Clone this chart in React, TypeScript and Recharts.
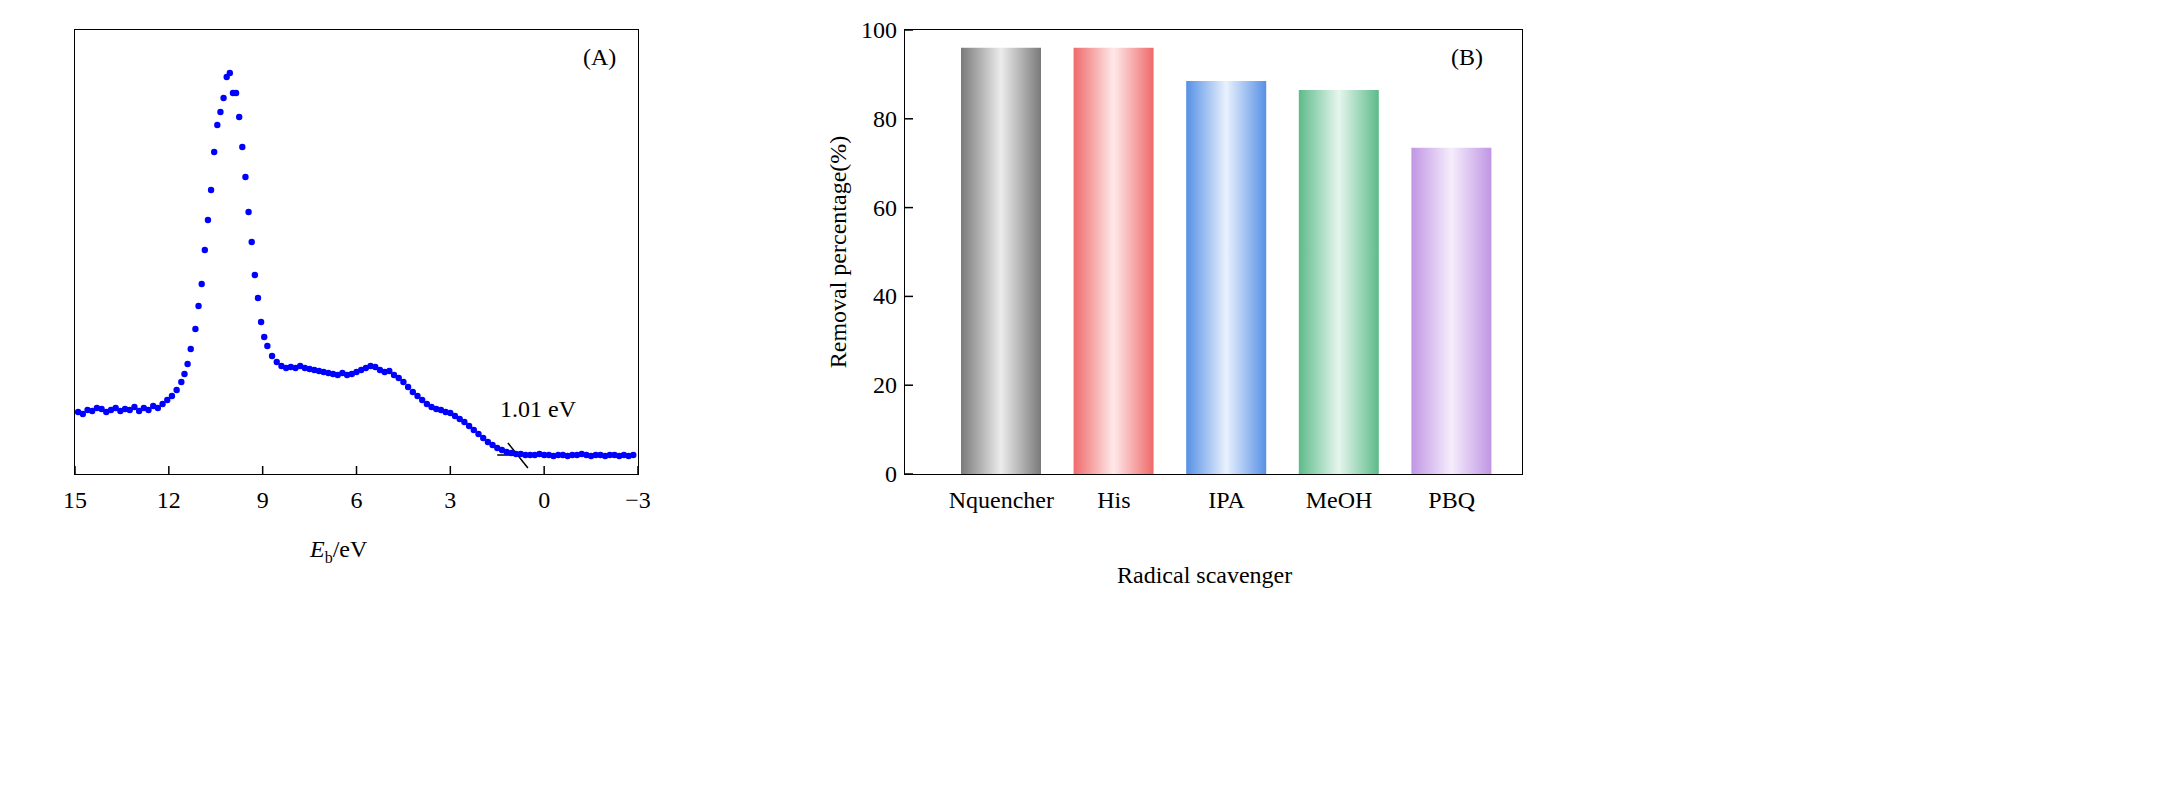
import React from 'react';
import { ScatterChart, Scatter, XAxis, YAxis, ReferenceLine, BarChart, Bar, Cell } from 'recharts';

const flatStart = [62,60,64,63,66,65,62,64,66,63,65,64,67,63,66,64,68,66,70];
const midE = [12.05,11.9,11.75,11.6,11.5,11.4,11.3,11.15,11.05,10.95,10.85,10.75,10.65,10.55,10.45,10.35,10.25,10.15,10.05,9.95,9.85,9.75,9.65,9.55,9.45,9.35,9.25,9.15,9.05,8.95,8.85,8.7,8.55,8.4,8.25,8.1,7.95,7.8,7.65,7.5,7.35,7.2,7.05,6.9,6.75,6.6,6.45,6.3,6.15,6.0,5.85,5.7,5.55,5.4,5.25,5.1,4.95,4.8,4.65,4.5,4.35,4.2,4.05,3.9,3.75,3.6,3.45,3.3,3.15,3.0,2.85,2.7,2.55,2.4,2.25,2.1,1.95,1.8,1.65,1.5,1.35,1.2,1.05,0.9,0.75,0.6,0.45];
const midI = [74,78,84,92,100,110,125,145,168,190,224,254,284,322,349,362,376,397,401,381,381,357,327,297,262,232,199,176,152,137,128,118,112,108,106,107,106,108,106,105,104,103,102,101,100,99,101,99,100,102,104,106,108,107,104,102,103,99,96,92,87,82,78,74,70,67,65,64,62,61,58,55,52,48,44,40,36,32,29,26,24,22,21,20,20,19,19];
const flatEnd = [19,20,19,19,18,19,19,18,19,19,20,19,18,19,19,18,19,19,18,19,18,19];

const spectrum: { e: number; i: number }[] = [];
flatStart.forEach((v, k) => spectrum.push({ e: +(14.9 - 0.15 * k).toFixed(2), i: v }));
midE.forEach((e, k) => spectrum.push({ e, i: midI[k] }));
flatEnd.forEach((v, k) => spectrum.push({ e: +(0.3 - 0.15 * k).toFixed(2), i: v }));

const xTicks = [15, 12, 9, 6, 3, 0, -3];
const categories = ['Nquencher', 'His', 'IPA', 'MeOH', 'PBQ'];
const removal = [96, 96, 88.5, 86.5, 73.5];
const yTicks = [0, 20, 40, 60, 80, 100];
const edgeColors = ['#7a7a7a', '#f06a6a', '#5690e6', '#5dbb8a', '#c096e4'];
const midColors = ['#ececec', '#fee9ea', '#e9f1fd', '#e6f6ee', '#f5edfc'];
const barData = categories.map((c, k) => ({ name: c, v: removal[k] }));

const FONT = '"Liberation Serif", "Times New Roman", serif';

const XTickA = (p: any) => {
  const { x, payload } = p;
  const y = 474;
  const label = payload.value < 0 ? '\u2212' + Math.abs(payload.value) : String(payload.value);
  return (
    <g>
      <line x1={x} y1={y} x2={x} y2={y - 8} stroke="#000" strokeWidth={1.5} />
      <text x={x} y={y + 34} textAnchor="middle" fontFamily={FONT} fontSize={24} fill="#000">{label}</text>
    </g>
  );
};

const YTickB = (p: any) => {
  const { y, payload } = p;
  const x = 105;
  return (
    <g>
      <line x1={x} y1={y} x2={x + 8} y2={y} stroke="#000" strokeWidth={1.5} />
      <text x={x - 8} y={y + 8} textAnchor="end" fontFamily={FONT} fontSize={24} fill="#000">{payload.value}</text>
    </g>
  );
};

const XTickB = (p: any) => {
  const { x, payload } = p;
  return (
    <text x={x} y={508} textAnchor="middle" fontFamily={FONT} fontSize={24} fill="#000">{payload.value}</text>
  );
};

const Dot = (p: any) => <circle cx={p.cx} cy={p.cy} r={3.2} fill="#0000ff" />;

const frame = (left: number, width: number) => (
  <div style={{ position: 'absolute', left: left - 1, top: 29, width: width, height: 444, border: '1.5px solid #000', pointerEvents: 'none' }} />
);

export default function App() {
  return (
    <div style={{ position: 'absolute', left: 0, top: 0, width: 2178, height: 803, background: '#fff', fontFamily: FONT }}>
      <div style={{ position: 'absolute', left: 0, top: 0 }}>
        <ScatterChart width={700} height={803} margin={{ top: 30, left: 15, right: 62, bottom: 299 }}>
          <XAxis dataKey="e" type="number" domain={[-3, 15]} reversed ticks={xTicks} tick={<XTickA />} tickLine={false} axisLine={false} height={30} interval={0} />
          <YAxis dataKey="i" type="number" domain={[0, 444]} tick={false} tickLine={false} axisLine={false} width={60} />
          <Scatter data={spectrum} shape={<Dot />} isAnimationActive={false} />
          <ReferenceLine segment={[{ x: 1.5, y: 19 }, { x: -0.4, y: 19 }]} stroke="#000" strokeWidth={1.5} />
          <ReferenceLine segment={[{ x: 1.16, y: 31 }, { x: 0.52, y: 6 }]} stroke="#000" strokeWidth={1.5} />
        </ScatterChart>
      </div>
      {frame(75, 563)}
      <div style={{ position: 'absolute', left: 500, top: 396, fontSize: 24 }}>1.01 eV</div>
      <div style={{ position: 'absolute', left: 583, top: 44, fontSize: 24 }}>(A)</div>
      <div style={{ position: 'absolute', left: 310, top: 536, fontSize: 24 }}><i>E</i><sub style={{ fontSize: 16 }}>b</sub>/eV</div>

      <div style={{ position: 'absolute', left: 800, top: 0 }}>
        <BarChart width={760} height={803} data={barData} margin={{ top: 30, left: 45, right: 38, bottom: 299 }} barSize={80}>
          <defs>
            {categories.map((c, k) => (
              <linearGradient key={c} id={'g' + k} x1="0" y1="0" x2="1" y2="0">
                <stop offset="0%" stopColor={edgeColors[k]} />
                <stop offset="50%" stopColor={midColors[k]} />
                <stop offset="100%" stopColor={edgeColors[k]} />
              </linearGradient>
            ))}
          </defs>
          <XAxis dataKey="name" tick={<XTickB />} tickLine={false} axisLine={false} height={30} padding={{ left: 40, right: 14 }} interval={0} />
          <YAxis domain={[0, 100]} ticks={yTicks} tick={<YTickB />} tickLine={false} axisLine={false} width={60} />
          <Bar dataKey="v" isAnimationActive={false}>
            {barData.map((d, k) => <Cell key={d.name} fill={`url(#g${k})`} />)}
          </Bar>
        </BarChart>
      </div>
      {frame(905, 617)}
      <div style={{ position: 'absolute', left: 1451, top: 44, fontSize: 24 }}>(B)</div>
      <div style={{ position: 'absolute', left: 1117, top: 562, fontSize: 24 }}>Radical scavenger</div>
      <div style={{ position: 'absolute', left: 838, top: 252, fontSize: 24, transform: 'translate(-50%, -50%) rotate(-90deg)', whiteSpace: 'nowrap' }}>Removal percentage(%)</div>
    </div>
  );
}
